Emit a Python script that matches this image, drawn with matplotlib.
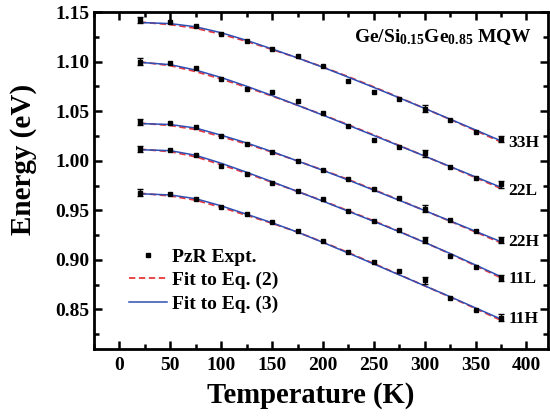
import numpy as np
import matplotlib
matplotlib.use("Agg")
import matplotlib.pyplot as plt
from matplotlib.ticker import MultipleLocator

plt.rcParams['font.family'] = ['Liberation Serif', 'DejaVu Serif']
plt.rcParams['font.weight'] = 'bold'
plt.rcParams['mathtext.fontset'] = 'custom'
plt.rcParams['mathtext.rm'] = 'Liberation Serif:bold'
plt.rcParams['mathtext.it'] = 'Liberation Serif:bold'
plt.rcParams['mathtext.bf'] = 'Liberation Serif:bold'

# temperatures of the measurements (K)
temps = [20, 50, 75, 100, 125, 150, 175, 200, 225, 250, 275, 300, 325, 350, 375]

# PzR experimental transition energies (eV)
expt_33H = [1.1420, 1.1400, 1.1360, 1.1276, 1.1210, 1.1130, 1.1054, 1.0960, 1.0806, 1.0690, 1.0620, 1.0527, 1.0408, 1.0289, 1.0221]
expt_22L = [1.1000, 1.0990, 1.0936, 1.0823, 1.0720, 1.0690, 1.0600, 1.0487, 1.0347, 1.0211, 1.0143, 1.0075, 0.9932, 0.9830, 0.9762]
expt_22H = [1.0390, 1.0380, 1.0340, 1.0245, 1.0170, 1.0092, 1.0000, 0.9908, 0.9813, 0.9710, 0.9626, 0.9517, 0.9405, 0.9293, 0.9200]
expt_11L = [1.0119, 1.0109, 1.0058, 0.9949, 0.9864, 0.9772, 0.9694, 0.9610, 0.9497, 0.9395, 0.9303, 0.9200, 0.9041, 0.8929, 0.8816]
expt_11H = [0.9677, 0.9660, 0.9615, 0.9534, 0.9462, 0.9378, 0.9293, 0.9190, 0.9082, 0.8980, 0.8888, 0.8793, 0.8615, 0.8497, 0.8418]

# error bars only at 20 K, 300 K and 375 K
err_temps = [20, 300, 375]
err_size = 0.0033

# fit to Eq. (2)
fit2_33H = [1.1400, 1.1374, 1.1337, 1.1277, 1.1205, 1.1123, 1.1038, 1.0946, 1.0848, 1.0745, 1.0638, 1.0528, 1.0417, 1.0304, 1.0189]
fit2_22L = [1.0998, 1.0960, 1.0900, 1.0825, 1.0742, 1.0653, 1.0560, 1.0463, 1.0363, 1.0260, 1.0154, 1.0047, 0.9939, 0.9830, 0.9720]
fit2_22H = [1.0380, 1.0356, 1.0315, 1.0243, 1.0170, 1.0087, 0.9998, 0.9906, 0.9810, 0.9708, 0.9604, 0.9497, 0.9390, 0.9281, 0.9171]
fit2_11L = [1.0117, 1.0092, 1.0040, 0.9960, 0.9874, 0.9783, 0.9690, 0.9595, 0.9495, 0.9393, 0.9287, 0.9176, 0.9061, 0.8941, 0.8818]
fit2_11H = [0.9672, 0.9645, 0.9602, 0.9530, 0.9450, 0.9369, 0.9280, 0.9179, 0.9073, 0.8963, 0.8851, 0.8738, 0.8625, 0.8508, 0.8390]

# fit to Eq. (3)
fit3_33H = [1.1395, 1.1384, 1.1352, 1.1292, 1.1215, 1.1128, 1.1038, 1.0943, 1.0843, 1.0740, 1.0635, 1.0528, 1.0420, 1.0311, 1.0201]
fit3_22L = [1.0993, 1.0970, 1.0915, 1.0840, 1.0752, 1.0658, 1.0560, 1.0460, 1.0358, 1.0255, 1.0151, 1.0047, 0.9942, 0.9837, 0.9732]
fit3_22H = [1.0375, 1.0366, 1.0330, 1.0258, 1.0180, 1.0092, 0.9998, 0.9903, 0.9805, 0.9703, 0.9601, 0.9497, 0.9393, 0.9288, 0.9183]
fit3_11L = [1.0112, 1.0102, 1.0055, 0.9975, 0.9884, 0.9788, 0.9690, 0.9592, 0.9490, 0.9388, 0.9284, 0.9176, 0.9064, 0.8948, 0.8830]
fit3_11H = [0.9667, 0.9655, 0.9617, 0.9545, 0.9460, 0.9374, 0.9280, 0.9176, 0.9068, 0.8958, 0.8848, 0.8738, 0.8628, 0.8515, 0.8402]

labels = ['33H', '22L', '22H', '11L', '11H']
label_y = [1.0180, 0.9690, 0.9185, 0.8810, 0.8400]

expt = [expt_33H, expt_22L, expt_22H, expt_11L, expt_11H]
fit2 = [fit2_33H, fit2_22L, fit2_22H, fit2_11L, fit2_11H]
fit3 = [fit3_33H, fit3_22L, fit3_22H, fit3_11L, fit3_11H]

fig = plt.figure(figsize=(5.5, 4.18), dpi=100)
ax = fig.add_axes([0.171, 0.165, 0.825, 0.806])

for i in range(len(labels)):
    l2, = ax.plot(temps, fit2[i], color='#e8393c', ls=(0, (3.5, 2)), lw=1.3, zorder=2)
    l3, = ax.plot(temps, fit3[i], color='#2f4fb5', ls='-', lw=1.1, zorder=3)
    pts, = ax.plot(temps, expt[i], 's', color='black', ms=3.1, zorder=4)
    # error bars
    ey = [expt[i][temps.index(t)] for t in err_temps]
    ax.errorbar(err_temps, ey, yerr=err_size, fmt='none', ecolor='black',
                elinewidth=1.0, capsize=2.5, capthick=1.0, zorder=4)
    ax.text(382, label_y[i], labels[i], fontsize=12.5, fontweight='bold',
            ha='left', va='center')

ax.text(405, 1.1245, r'$\mathrm{Ge/Si_{0.15}Ge_{0.85}}$ MQW', fontsize=14,
        fontweight='bold', ha='right', va='center')

ax.legend([pts, l2, l3], ['PzR Expt.', 'Fit to Eq. (2)', 'Fit to Eq. (3)'],
          loc='lower left', bbox_to_anchor=(0.078, 0.108), frameon=False,
          fontsize=14, handlelength=1.95, handletextpad=0.25, labelspacing=0.3,
          borderaxespad=0, borderpad=0)

ax.set_xlim(-25, 421)
ax.set_ylim(0.81, 1.15)
ax.xaxis.set_major_locator(MultipleLocator(50))
ax.xaxis.set_minor_locator(MultipleLocator(25))
ax.yaxis.set_major_locator(MultipleLocator(0.05))
ax.yaxis.set_minor_locator(MultipleLocator(0.025))
ax.yaxis.set_major_formatter(plt.FormatStrFormatter('%.2f'))

ax.tick_params(which='both', direction='in', top=True, right=True, width=1.8)
ax.tick_params(which='major', length=6, labelsize=14)
ax.tick_params(which='minor', length=3.5)
ax.tick_params(axis='x', which='major', pad=5.5)
ax.tick_params(axis='y', which='major', pad=3.5)
for s in ax.spines.values():
    s.set_linewidth(2.0)

ax.set_xlabel('Temperature (K)', fontsize=20.6, fontweight='bold')
ax.set_ylabel('Energy (eV)', fontsize=21, fontweight='bold')
ax.xaxis.set_label_coords(0.478, -0.097)
ax.yaxis.set_label_coords(-0.126, 0.562)

fig.savefig('out.png', dpi=100)
